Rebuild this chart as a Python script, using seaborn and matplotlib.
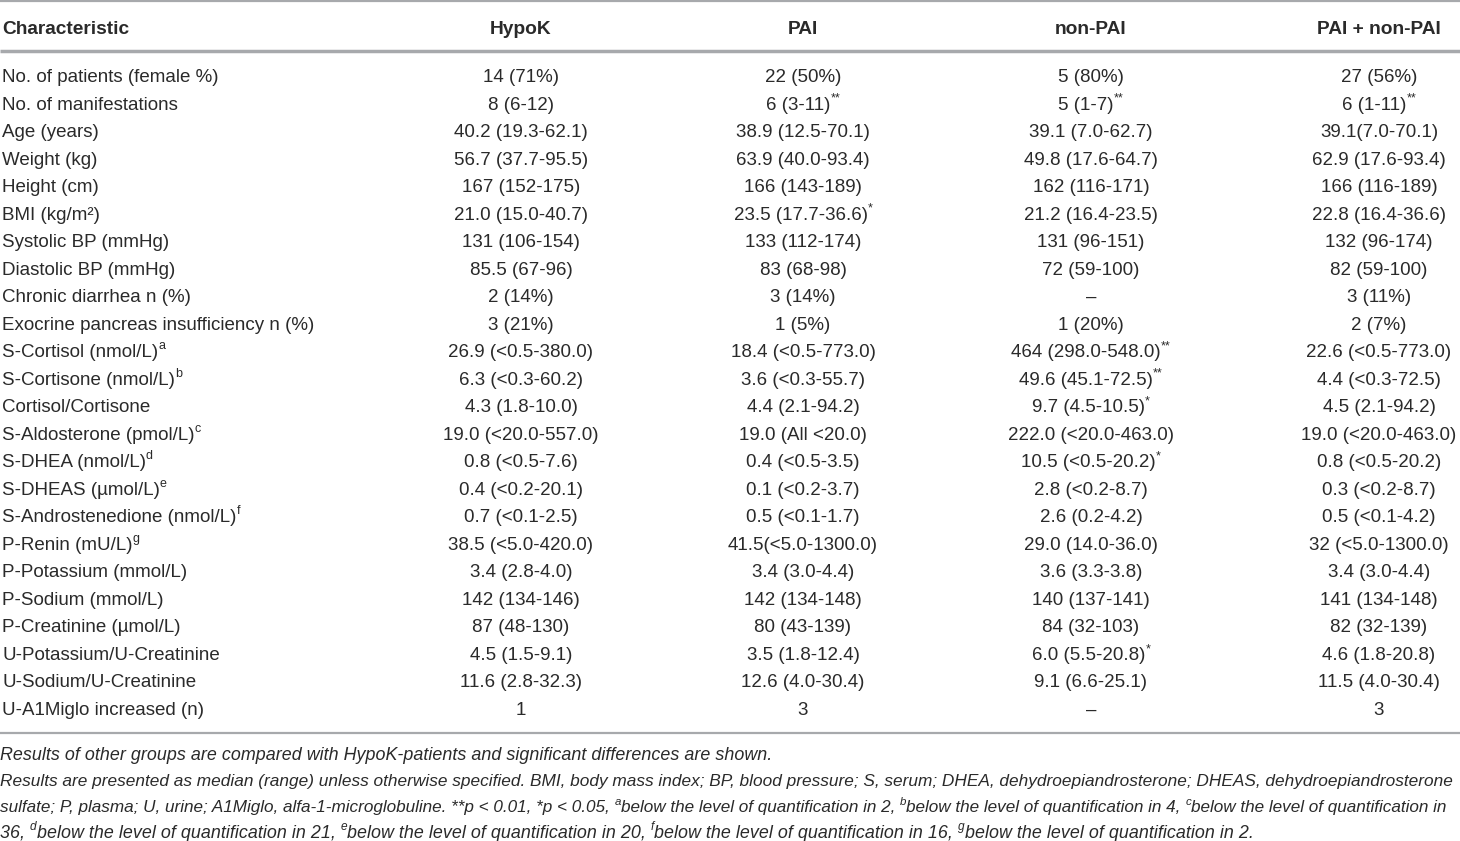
import re
import matplotlib
matplotlib.use("Agg")
import matplotlib.pyplot as plt
import seaborn as sns

sns.set_theme(style="white")
plt.rcParams["font.family"] = ["Liberation Sans", "DejaVu Sans"]

# ---------------- data ----------------
columns = ["Characteristic", "HypoK", "PAI", "non-PAI", "PAI + non-PAI"]

characteristics = [
    "No. of patients (female %)", "No. of manifestations", "Age (years)", "Weight (kg)",
    "Height (cm)", "BMI (kg/m²)", "Systolic BP (mmHg)", "Diastolic BP (mmHg)",
    "Chronic diarrhea n (%)", "Exocrine pancreas insufficiency n (%)",
    "S-Cortisol (nmol/L){a}", "S-Cortisone (nmol/L){b}", "Cortisol/Cortisone",
    "S-Aldosterone (pmol/L){c}", "S-DHEA (nmol/L){d}", "S-DHEAS (µmol/L){e}",
    "S-Androstenedione (nmol/L){f}", "P-Renin (mU/L){g}", "P-Potassium (mmol/L)",
    "P-Sodium (mmol/L)", "P-Creatinine (µmol/L)", "U-Potassium/U-Creatinine",
    "U-Sodium/U-Creatinine", "U-A1Miglo increased (n)",
]

hypok = [
    "14 (71%)", "8 (6-12)", "40.2 (19.3-62.1)", "56.7 (37.7-95.5)", "167 (152-175)",
    "21.0 (15.0-40.7)", "131 (106-154)", "85.5 (67-96)", "2 (14%)", "3 (21%)",
    "26.9 (<0.5-380.0)", "6.3 (<0.3-60.2)", "4.3 (1.8-10.0)", "19.0 (<20.0-557.0)",
    "0.8 (<0.5-7.6)", "0.4 (<0.2-20.1)", "0.7 (<0.1-2.5)", "38.5 (<5.0-420.0)",
    "3.4 (2.8-4.0)", "142 (134-146)", "87 (48-130)", "4.5 (1.5-9.1)",
    "11.6 (2.8-32.3)", "1",
]

pai = [
    "22 (50%)", "6 (3-11){**}", "38.9 (12.5-70.1)", "63.9 (40.0-93.4)", "166 (143-189)",
    "23.5 (17.7-36.6){*}", "133 (112-174)", "83 (68-98)", "3 (14%)", "1 (5%)",
    "18.4 (<0.5-773.0)", "3.6 (<0.3-55.7)", "4.4 (2.1-94.2)", "19.0 (All <20.0)",
    "0.4 (<0.5-3.5)", "0.1 (<0.2-3.7)", "0.5 (<0.1-1.7)", "41.5(<5.0-1300.0)",
    "3.4 (3.0-4.4)", "142 (134-148)", "80 (43-139)", "3.5 (1.8-12.4)",
    "12.6 (4.0-30.4)", "3",
]

non_pai = [
    "5 (80%)", "5 (1-7){**}", "39.1 (7.0-62.7)", "49.8 (17.6-64.7)", "162 (116-171)",
    "21.2 (16.4-23.5)", "131 (96-151)", "72 (59-100)", "–", "1 (20%)",
    "464 (298.0-548.0){**}", "49.6 (45.1-72.5){**}", "9.7 (4.5-10.5){*}",
    "222.0 (<20.0-463.0)", "10.5 (<0.5-20.2){*}", "2.8 (<0.2-8.7)", "2.6 (0.2-4.2)",
    "29.0 (14.0-36.0)", "3.6 (3.3-3.8)", "140 (137-141)", "84 (32-103)",
    "6.0 (5.5-20.8){*}", "9.1 (6.6-25.1)", "–",
]

pai_non_pai = [
    "27 (56%)", "6 (1-11){**}", "39.1(7.0-70.1)", "62.9 (17.6-93.4)", "166 (116-189)",
    "22.8 (16.4-36.6)", "132 (96-174)", "82 (59-100)", "3 (11%)", "2 (7%)",
    "22.6 (<0.5-773.0)", "4.4 (<0.3-72.5)", "4.5 (2.1-94.2)", "19.0 (<20.0-463.0)",
    "0.8 (<0.5-20.2)", "0.3 (<0.2-8.7)", "0.5 (<0.1-4.2)", "32 (<5.0-1300.0)",
    "3.4 (3.0-4.4)", "141 (134-148)", "82 (32-139)", "4.6 (1.8-20.8)",
    "11.5 (4.0-30.4)", "3",
]

footnotes = [
    "Results of other groups are compared with HypoK-patients and significant differences are shown.",
    "Results are presented as median (range) unless otherwise specified. BMI, body mass index; BP, blood pressure; S, serum; DHEA, dehydroepiandrosterone; DHEAS, dehydroepiandrosterone",
    "sulfate; P, plasma; U, urine; A1Miglo, alfa-1-microglobuline. **p < 0.01, *p < 0.05, {a}below the level of quantification in 2, {b}below the level of quantification in 4, {c}below the level of quantification in",
    "36, {d}below the level of quantification in 21, {e}below the level of quantification in 20, {f}below the level of quantification in 16, {g}below the level of quantification in 2.",
]
footnote_justified = [False, True, True, False]

# ---------------- layout ----------------
W, H = 1460, 841
fig = plt.figure(figsize=(W / 100, H / 100), dpi=100)
ax = fig.add_axes([0, 0, 1, 1])
ax.set_xlim(0, W)
ax.set_ylim(H, 0)
ax.axis("off")
renderer = fig.canvas.get_renderer()

TXT = "#2a2a2a"
LINE = "#a7a9ac"
col_x = [2, 521, 803, 1091, 1379]
header_y = 27
row_y0 = 76
row_dy = 27.52
foot_y0 = 755
foot_dy = 25.8
BODY = 13.5
HEAD = 13.8
SUP = 9.0
FOOT = 12.9
FOOT_SUP = 8.6


def measure(s, **kw):
    t = ax.text(0, 0, s + "|", **kw)
    t2 = ax.text(0, 0, "|", **kw)
    w = t.get_window_extent(renderer).width - t2.get_window_extent(renderer).width
    t.remove()
    t2.remove()
    return w


def parse(s):
    segs = []
    for p in re.split(r"(\{[^}]*\})", s):
        if not p:
            continue
        segs.append((p[1:-1], True) if p.startswith("{") else (p, False))
    return segs


def rich(x, y, s, ha="left", size=BODY, sup_size=SUP, width=None, **kw):
    segs = parse(s)
    widths = [measure(t, fontsize=(sup_size if sup else size), **kw) for t, sup in segs]
    gap = 0.0
    if width is not None:
        natural = sum(widths)
        if natural > width:
            f = width / natural
            size *= f
            sup_size *= f
            widths = [measure(t, fontsize=(sup_size if sup else size), **kw) for t, sup in segs]
        else:
            # spread the remaining room over the word spaces (justified line)
            n_sp = sum(t.count(" ") for t, sup in segs if not sup)
            gap = (width - natural) / max(n_sp, 1)
    total = sum(widths)
    cx = x - total / 2 if ha == "center" else x
    for (t, sup), w in zip(segs, widths):
        if sup:
            ax.text(cx, y - size * 0.58, t, fontsize=sup_size, va="baseline", ha="left", color=TXT, **kw)
            cx += w
        elif gap > 0:
            words = t.split(" ")
            for wi, word in enumerate(words):
                if word:
                    ax.text(cx, y, word, fontsize=size, va="baseline", ha="left", color=TXT, **kw)
                    cx += measure(word, fontsize=size, **kw)
                if wi < len(words) - 1:
                    cx += measure(" ", fontsize=size, **kw) + gap
        else:
            ax.text(cx, y, t, fontsize=size, va="baseline", ha="left", color=TXT, **kw)
            cx += w


# rules
ax.plot([0, W], [1.3, 1.3], color=LINE, lw=1.6, solid_capstyle="butt")
ax.plot([0, W], [51.3, 51.3], color=LINE, lw=2.5, solid_capstyle="butt")
ax.plot([0, W], [733, 733], color=LINE, lw=1.6, solid_capstyle="butt")

# header
for i, c in enumerate(columns):
    ax.text(col_x[i], header_y + 6.5, c, fontsize=HEAD, fontweight="bold", color=TXT,
            ha="left" if i == 0 else "center", va="baseline")

# body
series = [hypok, pai, non_pai, pai_non_pai]
for r, label in enumerate(characteristics):
    yb = row_y0 + r * row_dy + 6.0
    rich(col_x[0], yb, label, ha="left")
    for j, vals in enumerate(series):
        rich(col_x[j + 1], yb, vals[r], ha="center")

# footnotes
for k, line in enumerate(footnotes):
    yb = foot_y0 + k * foot_dy + 5.5
    rich(0, yb, line, ha="left", size=FOOT, sup_size=FOOT_SUP, fontstyle="italic",
         width=(1458 if footnote_justified[k] else None))

fig.savefig("out.png", dpi=100)
